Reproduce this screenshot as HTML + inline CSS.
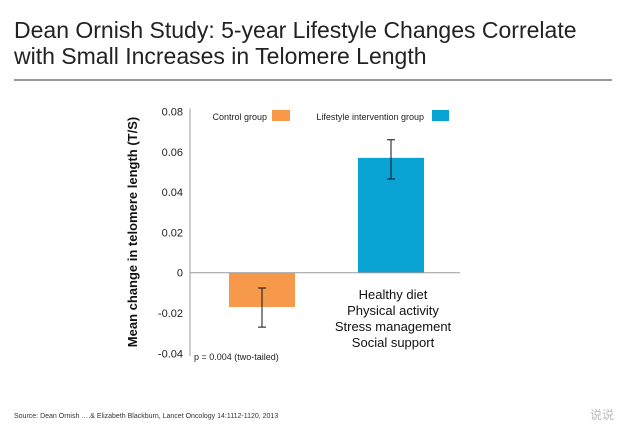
<!DOCTYPE html>
<html><head><meta charset="utf-8"><style>
body{margin:0;background:#fff;font-family:"Liberation Sans",Arial,sans-serif}
svg text{font-family:"Liberation Sans",Arial,sans-serif}
</style></head><body>
<svg width="638" height="442">
<text x="14" y="38" font-size="23" fill="#222">Dean Ornish Study: 5-year Lifestyle Changes Correlate</text>
<text x="14" y="64" font-size="23" fill="#222">with Small Increases in Telomere Length</text>
<line x1="14" y1="80" x2="612" y2="80" stroke="#333" stroke-width="1"/>
<g id="chart"></g>
<text transform="translate(137,232) rotate(-90)" text-anchor="middle" font-size="13" font-weight="bold" fill="#111">Mean change in telomere length (T/S)</text>
<text x="194" y="360" font-size="9" fill="#222">p = 0.004 (two-tailed)</text>
<g font-size="13" fill="#111" text-anchor="middle">
<text x="393" y="299">Healthy diet</text>
<text x="393" y="315">Physical activity</text>
<text x="393" y="331">Stress management</text>
<text x="393" y="347">Social support</text>
</g>
<g font-size="9" fill="#222">
<text x="267" y="120" text-anchor="end">Control group</text>
<rect x="272" y="110" width="18" height="11" fill="#f7994a"/>
<text x="424" y="120" text-anchor="end">Lifestyle intervention group</text>
<rect x="432" y="110" width="17" height="11" fill="#0aa4d4"/>
</g>
<text x="14" y="418" font-size="7" fill="#333">Source:  Dean Ornish ….&amp; Elizabeth Blackburn, Lancet Oncology 14:1112-1120, 2013</text>
<text x="590" y="419" font-size="12" fill="#bbb" font-family="Liberation Sans, Noto Sans CJK SC, sans-serif">说说</text>
</svg>
<script>
const categories=["Control group","Lifestyle intervention group"];
const values=[-0.017,0.057];
const errLow=[-0.027,0.0465];
const errHigh=[-0.0076,0.066];
const ticks=[0.08,0.06,0.04,0.02,0,-0.02,-0.04];
const tickLabels=["0.08","0.06","0.04","0.02","0","-0.02","-0.04"];
const colors=["#f7994a","#0aa4d4"];
const NS="http://www.w3.org/2000/svg";
const g=document.getElementById('chart');
const y=v=>272.7-(v/0.02)*40.3;
const xs=[229,358], bw=66;
function mk(t,a){const e=document.createElementNS(NS,t);for(const k in a)e.setAttribute(k,a[k]);g.appendChild(e);return e;}
const ax=mk('line',{x1:190,y1:y(0.08)-3,x2:190,y2:y(-0.04)+3,stroke:'#999'});


ticks.forEach((t,i)=>{const e=mk('text',{x:183,y:y(t)+4,'text-anchor':'end','font-size':11,fill:'#222'});e.textContent=tickLabels[i];

});
values.forEach((v,i)=>{const top=Math.min(y(v),y(0)),h=Math.abs(y(v)-y(0));
const r=mk('rect',{x:xs[i],y:top,width:bw,height:h,fill:colors[i]});


const cx=xs[i]+bw/2;
const el=mk('path',{d:`M${cx} ${y(errHigh[i])}V${y(errLow[i])}M${cx-4} ${y(errHigh[i])}H${cx+4}M${cx-4} ${y(errLow[i])}H${cx+4}`,stroke:'#111','stroke-width':1,fill:'none'});

});
const z=mk('line',{x1:190,y1:y(0),x2:460,y2:y(0),stroke:'#999'});


</script>
</body></html>
